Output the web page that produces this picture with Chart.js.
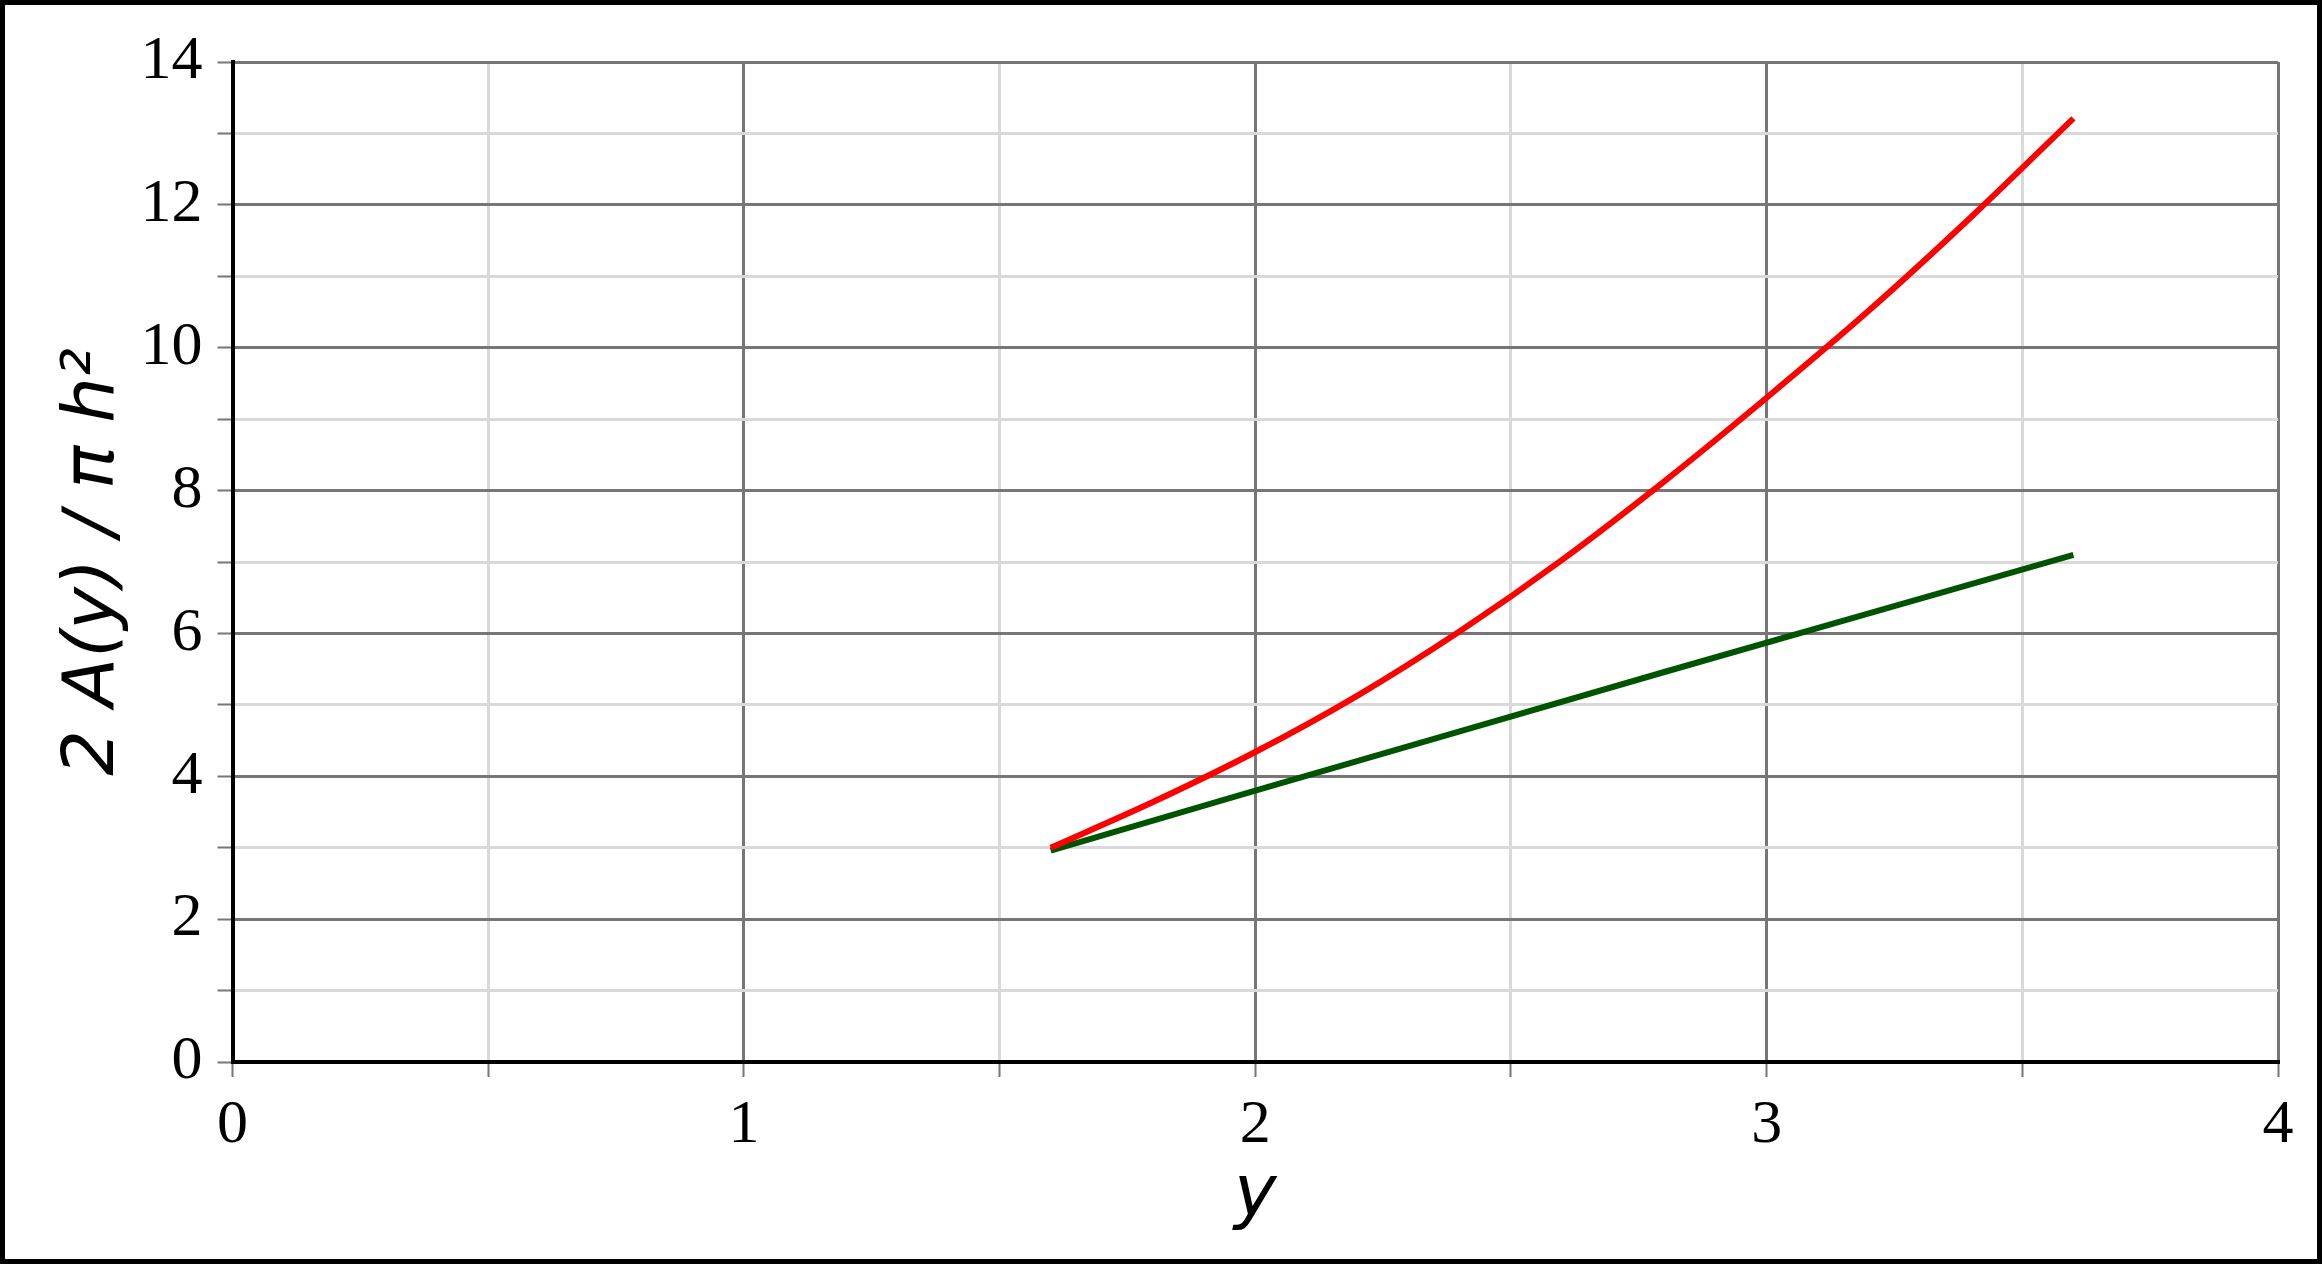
<!DOCTYPE html>
<html>
<head>
<meta charset="utf-8">
<script src="https://cdn.jsdelivr.net/npm/chart.js@4"></script>
<style>
  html, body { margin: 0; padding: 0; background: #fff; }
  #wrap { width: 2322px; height: 1264px; box-sizing: border-box; border: 5px solid #000; position: relative; }
</style>
</head>
<body>
<div id="wrap"><canvas id="areaChart"></canvas></div>
<script>
// values
const yValues = [1.6, 1.8, 2.0, 2.2, 2.4, 2.6, 2.8, 3.0, 3.2, 3.4, 3.6];
const redArea = [3.00, 3.64, 4.34, 5.13, 6.03, 7.03, 8.13, 9.30, 10.52, 11.83, 13.21];
const greenY = [1.6, 2.0, 2.4, 2.8, 3.2, 3.6];
const greenArea = [2.96, 3.80, 4.63, 5.46, 6.28, 7.10];

const xTitle = 'y';
const yTitle = '2 A(y) / \u03c0 h\u00b2';

const toPoints = (xs, ys) => xs.map((x, i) => ({ x: x, y: ys[i] }));

const tickFont = { family: '"Liberation Serif", "Times New Roman", serif', size: 62 };
const titleFont = { family: '"DejaVu Sans", Verdana, sans-serif', size: 72, style: 'italic' };
const major = '#767676';
const minor = '#d9d9d9';

const ctx = document.getElementById('areaChart').getContext('2d');
const areaChart = new Chart(ctx, {
    type: 'scatter',
    data: {
        datasets: [{
            label: 'red',
            data: toPoints(yValues, redArea),
            showLine: true,
            borderColor: '#ff0000',
            borderWidth: 6,
            pointRadius: 0,
            cubicInterpolationMode: 'monotone',
            order: 0
        }, {
            label: 'green',
            data: toPoints(greenY, greenArea),
            showLine: true,
            borderColor: 'rgb(0, 84, 0)',
            borderWidth: 6,
            pointRadius: 0,
            order: 1
        }]
    },
    options: {
        responsive: true,
        maintainAspectRatio: false,
        animation: false,
        layout: { padding: { top: 57, right: 39, left: 0, bottom: 0 } },
        plugins: {
            legend: { display: false },
            tooltip: { enabled: false }
        },
        scales: {
            x: {
                type: 'linear',
                min: 0,
                max: 4,
                afterFit: (s) => { s.height = 197; },
                border: { color: '#000', width: 4 },
                grid: {
                    lineWidth: 3,
                    tickLength: 15,
                    color: (c) => Number.isInteger(c.tick.value) ? major : minor,
                    tickColor: major,
                    tickWidth: 2
                },
                ticks: {
                    stepSize: 0.5,
                    autoSkip: false,
                    maxRotation: 0,
                    padding: 12,
                    color: '#000',
                    font: tickFont,
                    callback: (v) => Number.isInteger(v) ? String(v) : ''
                },
                title: {
                    display: true,
                    text: xTitle,
                    color: '#000',
                    font: titleFont,
                    padding: { top: 0, bottom: 20 }
                }
            },
            y: {
                type: 'linear',
                min: 0,
                max: 14,
                afterFit: (s) => { s.width = 227.5; },
                border: { color: '#000', width: 4 },
                grid: {
                    lineWidth: 3,
                    tickLength: 15,
                    color: (c) => c.tick.value % 2 === 0 ? major : minor,
                    tickColor: major,
                    tickWidth: 2
                },
                ticks: {
                    stepSize: 1,
                    autoSkip: false,
                    padding: 15,
                    color: '#000',
                    font: tickFont,
                    callback: (v) => v % 2 === 0 ? String(v) : ''
                },
                title: {
                    display: true,
                    text: yTitle,
                    color: '#000',
                    font: titleFont,
                    padding: { top: 46, bottom: 0 }
                }
            }
        }
    }
});
</script>
</body>
</html>
